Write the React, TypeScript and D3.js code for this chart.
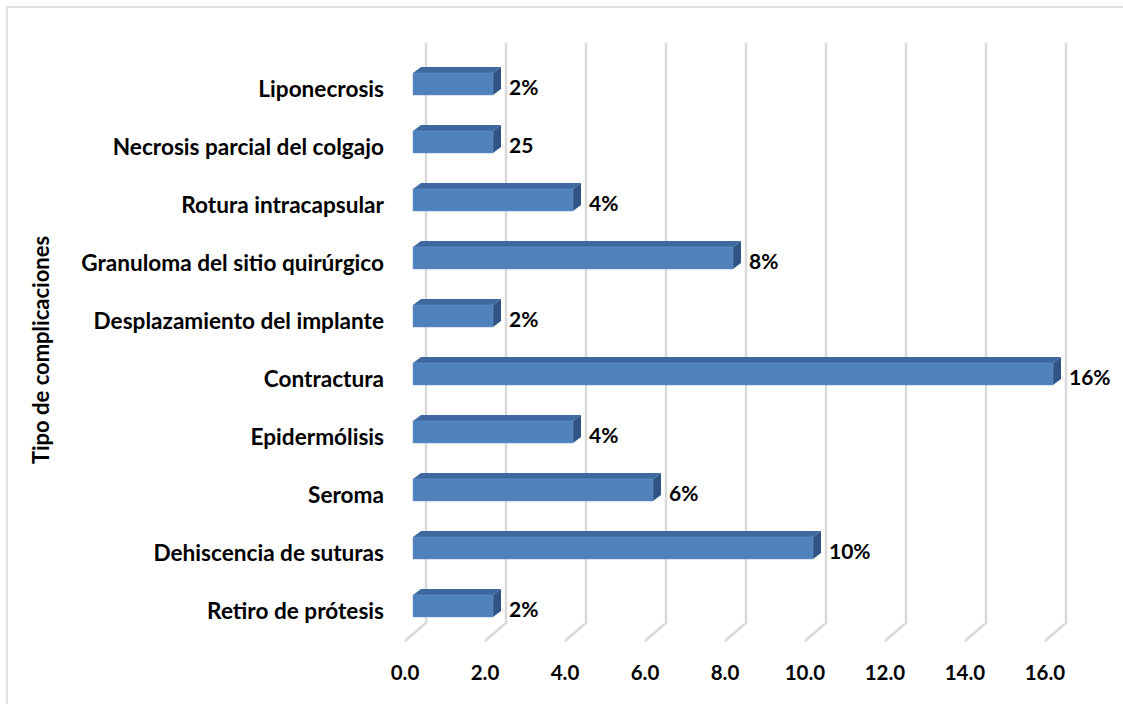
import React from "react";
import * as d3 from "d3";

const categories = [
  "Liponecrosis",
  "Necrosis parcial del colgajo",
  "Rotura intracapsular",
  "Granuloma del sitio quirúrgico",
  "Desplazamiento del implante",
  "Contractura",
  "Epidermólisis",
  "Seroma",
  "Dehiscencia de suturas",
  "Retiro de prótesis",
];
const values = [2, 2, 4, 8, 2, 16, 4, 6, 10, 2];
const valueLabels = ["2%", "25", "4%", "8%", "2%", "16%", "4%", "6%", "10%", "2%"];
const xTicks = [0, 2, 4, 6, 8, 10, 12, 14, 16];
const axisTitle = "Tipo de complicaciones";

const W = 1123;
const H = 704;
const FONT = "Lato, 'Open Sans', sans-serif";

export default function App() {
  const x = d3.scaleLinear().domain([0, 16]).range([426, 1066]);
  const y = d3.scaleBand().domain(categories).range([55, 635]).paddingInner(0).paddingOuter(0);
  const gridTop = 43;
  const gridBottom = 623;
  const floorDx = -21;
  const floorDy = 18;
  const barH = 22;
  const barShift = -13;
  const depthDx = 8;
  const depthDy = -6;

  return (
    <svg width={W} height={H} style={{ display: "block", position: "absolute", left: 0, top: 0 }}>
      <rect x={0} y={0} width={W} height={H} fill="#fff" />
      <rect x={7} y={7} width={W + 20} height={H + 20} fill="none" stroke="#d9d9d9" strokeWidth={1.5} />
      {xTicks.map((t) => (
        <polyline
          key={"g" + t}
          points={`${x(t)},${gridTop} ${x(t)},${gridBottom} ${x(t) + floorDx},${gridBottom + floorDy}`}
          fill="none"
          stroke="#d9d9d9"
          strokeWidth={2.5}
        />
      ))}
      {categories.map((c, i) => {
        const cy = (y(c) as number) + y.bandwidth() / 2;
        const x0 = x(0) + barShift;
        const x1 = x(values[i]) + barShift;
        const top = cy - barH / 2;
        const bot = cy + barH / 2;
        return (
          <g key={c}>
            <polygon
              points={`${x0},${top} ${x0 + depthDx},${top + depthDy} ${x1 + depthDx},${top + depthDy} ${x1},${top}`}
              fill="#3d69a0"
            />
            <polygon
              points={`${x1},${top} ${x1 + depthDx},${top + depthDy} ${x1 + depthDx},${bot + depthDy} ${x1},${bot}`}
              fill="#2f5485"
            />
            <rect x={x0} y={top} width={x1 - x0} height={barH} fill="#4f81bd" stroke="#6d97c9" strokeWidth={0.5} />
            <text
              x={x1 + depthDx + 8}
              y={cy + 11}
              fontFamily={FONT}
              fontWeight="bold"
              fontSize={21}
              fill="#000"
            >
              {valueLabels[i]}
            </text>
            <text
              x={384}
              y={cy + 13}
              textAnchor="end"
              fontFamily={FONT}
              fontWeight="bold"
              fontSize={22.6}
              fill="#000"
            >
              {c}
            </text>
          </g>
        );
      })}
      {xTicks.map((t) => (
        <text
          key={"t" + t}
          x={x(t) + floorDx}
          y={680}
          textAnchor="middle"
          fontFamily={FONT}
          fontWeight="bold"
          fontSize={20.5}
          fill="#000"
        >
          {t.toFixed(1)}
        </text>
      ))}
      <text
        transform={`translate(49,350) rotate(-90)`}
        textAnchor="middle"
        fontFamily={FONT}
        fontWeight="bold"
        fontSize={22}
        fill="#000"
      >
        {axisTitle}
      </text>
    </svg>
  );
}
